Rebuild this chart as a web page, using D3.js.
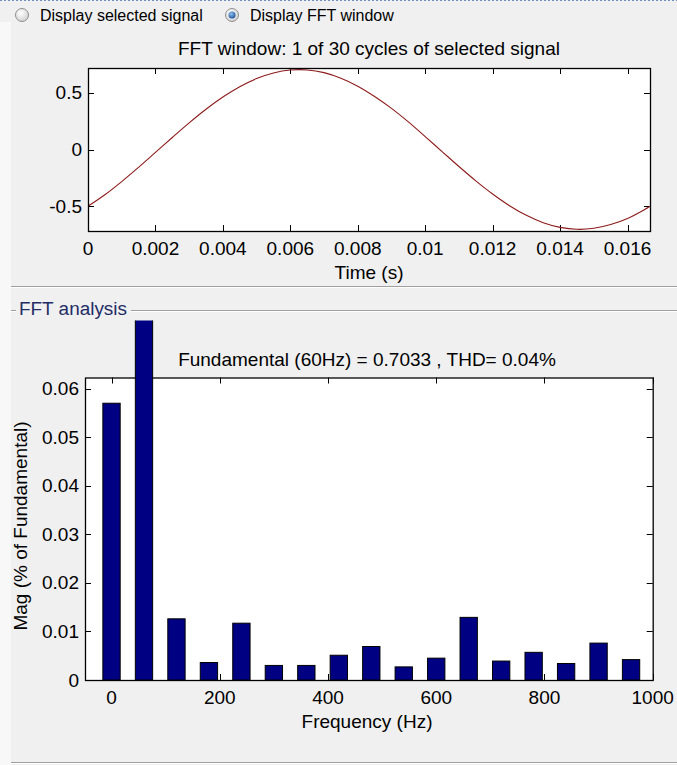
<!DOCTYPE html>
<html>
<head>
<meta charset="utf-8">
<script src="https://cdn.jsdelivr.net/npm/d3@7"></script>
<style>
  body { margin: 0; background: #f0f0f0; }
  svg { display: block; font-family: "Liberation Sans", Arial, sans-serif; }
</style>
</head>
<body>
<script>
// signal in the FFT window (one 60 Hz cycle)
const sigTime = [0, 0.0005, 0.001, 0.0015, 0.002, 0.0025, 0.003, 0.0035, 0.004, 0.0045,
  0.005, 0.0055, 0.006, 0.0065, 0.007, 0.0075, 0.008, 0.0085, 0.009, 0.0095,
  0.01, 0.0105, 0.011, 0.0115, 0.012, 0.0125, 0.013, 0.0135, 0.014, 0.0145,
  0.015, 0.0155, 0.016, 0.0165, 0.016667];
const sigValues = [-0.500, -0.399, -0.283, -0.157, -0.026, 0.106, 0.235, 0.355, 0.462, 0.553,
  0.625, 0.674, 0.700, 0.701, 0.677, 0.628, 0.558, 0.467, 0.362, 0.243,
  0.114, -0.018, -0.150, -0.276, -0.392, -0.495, -0.580, -0.645, -0.686, -0.703,
  -0.694, -0.661, -0.607, -0.530, -0.500];

// harmonic spectrum (% of fundamental)
const freqs = [0, 60, 120, 180, 240, 300, 360, 420, 480, 540, 600, 660, 720, 780, 840, 900, 960];
const mags = [0.0570, 100, 0.0126, 0.0036, 0.0117, 0.0030, 0.0030, 0.0051, 0.0069, 0.0027,
  0.0045, 0.0129, 0.0039, 0.0057, 0.0034, 0.0076, 0.0042];

const timeTicks = [0, 0.002, 0.004, 0.006, 0.008, 0.01, 0.012, 0.014, 0.016];
const timeLabels = ['0', '0.002', '0.004', '0.006', '0.008', '0.01', '0.012', '0.014', '0.016'];
const sigTicks = [-0.5, 0, 0.5];
const sigLabels = ['-0.5', '0', '0.5'];
const freqTicks = [0, 200, 400, 600, 800, 1000];
const freqLabels = ['0', '200', '400', '600', '800', '1000'];
const magTicks = [0, 0.01, 0.02, 0.03, 0.04, 0.05, 0.06];
const magLabels = ['0', '0.01', '0.02', '0.03', '0.04', '0.05', '0.06'];

const W = 677, H = 765;
const svg = d3.select('body').append('svg')
  .attr('width', W)
  .attr('height', H);

// window background bits
svg.append('rect').attr('x', 0).attr('y', 22).attr('width', 11).attr('height', H - 22).attr('fill', '#f8f8f8');
svg.append('line').attr('x1', 0).attr('x2', W).attr('y1', 0.5).attr('y2', 0.5)
  .attr('stroke', '#6f8fc4').attr('stroke-dasharray', '2,2');

function etched(x1, x2, y) {
  svg.append('line').attr('x1', x1).attr('x2', x2).attr('y1', y + 0.5).attr('y2', y + 0.5).attr('stroke', '#a0a0a0');
  svg.append('line').attr('x1', x1).attr('x2', x2).attr('y1', y + 1.5).attr('y2', y + 1.5).attr('stroke', '#ffffff');
}
etched(11, W, 286);
etched(11, 16, 310);
etched(131, W, 310);
etched(11, W, 762);

// radio buttons
const defs = svg.append('defs');
const rg = defs.append('radialGradient').attr('id', 'rb').attr('cx', '40%').attr('cy', '35%').attr('r', '70%');
rg.append('stop').attr('offset', '0%').attr('stop-color', '#ffffff');
rg.append('stop').attr('offset', '100%').attr('stop-color', '#cfcfcf');
const dg = defs.append('radialGradient').attr('id', 'dot').attr('cx', '40%').attr('cy', '35%').attr('r', '70%');
dg.append('stop').attr('offset', '0%').attr('stop-color', '#8fc0f0');
dg.append('stop').attr('offset', '100%').attr('stop-color', '#1c4f96');

const radios = [
  { x: 22, label: 'Display selected signal', on: false },
  { x: 232, label: 'Display FFT window', on: true }
];
radios.forEach(r => {
  svg.append('circle').attr('cx', r.x).attr('cy', 15).attr('r', 6.5)
    .attr('fill', 'url(#rb)').attr('stroke', '#8e8f8f');
  if (r.on) svg.append('circle').attr('cx', r.x).attr('cy', 15).attr('r', 3.5).attr('fill', 'url(#dot)');
  svg.append('text').attr('x', r.x + 18).attr('y', 20.5).attr('font-size', 16).attr('fill', '#000').text(r.label);
});

const tick = 6;

function frame(g, x, y, xt, yt) {
  const [x0, x1] = x.range(), [y0, y1] = y.range();
  g.append('rect').attr('x', x0).attr('y', y1).attr('width', x1 - x0).attr('height', y0 - y1).attr('fill', '#fff');
  const tk = g.append('g').attr('stroke', '#000').attr('stroke-width', 1);
  xt.forEach(v => {
    const px = Math.round(x(v)) + 0.5;
    tk.append('line').attr('x1', px).attr('x2', px).attr('y1', y0).attr('y2', y0 - tick);
    tk.append('line').attr('x1', px).attr('x2', px).attr('y1', y1).attr('y2', y1 + tick);
  });
  yt.forEach(v => {
    const py = Math.round(y(v)) + 0.5;
    tk.append('line').attr('x1', x0).attr('x2', x0 + tick).attr('y1', py).attr('y2', py);
    tk.append('line').attr('x1', x1).attr('x2', x1 - tick).attr('y1', py).attr('y2', py);
  });
}
function box(g, x, y) {
  const [x0, x1] = x.range(), [y0, y1] = y.range();
  g.append('rect').attr('x', x0 + 0.5).attr('y', y1 + 0.5).attr('width', x1 - x0).attr('height', y0 - y1)
    .attr('fill', 'none').attr('stroke', '#000').attr('stroke-width', 1.3);
}
function labels(g, x, y, xt, xl, yt, yl, xBase) {
  const fs = 19;
  g.append('g').selectAll('text').data(xt).enter().append('text')
    .attr('x', d => x(d)).attr('y', xBase).attr('text-anchor', 'middle').attr('font-size', fs)
    .text((d, i) => xl[i]);
  g.append('g').selectAll('text').data(yt).enter().append('text')
    .attr('x', x.range()[0] - 6).attr('y', d => y(d) + 6.5).attr('text-anchor', 'end').attr('font-size', fs)
    .text((d, i) => yl[i]);
}

// ---------- top plot: signal ----------
const tx = d3.scaleLinear().domain([0, 1 / 60]).range([88, 650]);
const ty = d3.scaleLinear().domain([-0.718, 0.718]).range([231, 68]);

const sigPlot = svg.append('g');
frame(sigPlot, tx, ty, timeTicks, sigTicks);
defs.append('clipPath').attr('id', 'clipTop').append('rect')
  .attr('x', 88).attr('y', 67).attr('width', 563).attr('height', 165);
sigPlot.append('path')
  .datum(sigTime.map((t, i) => [t, sigValues[i]]))
  .attr('clip-path', 'url(#clipTop)')
  .attr('fill', 'none').attr('stroke', '#8e1b1b').attr('stroke-width', 1.1)
  .attr('d', d3.line().x(d => tx(d[0])).y(d => ty(d[1])).curve(d3.curveCatmullRom));
box(sigPlot, tx, ty);
labels(sigPlot, tx, ty, timeTicks, timeLabels, sigTicks, sigLabels, 255);
sigPlot.append('text').attr('x', 369).attr('y', 55).attr('text-anchor', 'middle').attr('font-size', 19)
  .text('FFT window: 1 of 30 cycles of selected signal');
sigPlot.append('text').attr('x', 369).attr('y', 279).attr('text-anchor', 'middle').attr('font-size', 19)
  .text('Time (s)');

// ---------- FFT panel ----------
svg.append('text').attr('x', 19).attr('y', 315).attr('font-size', 18).attr('fill', '#1f2d66')
  .attr('textLength', 108).attr('lengthAdjust', 'spacingAndGlyphs')
  .text('FFT analysis');

const fx = d3.scaleLinear().domain([-49, 1000]).range([85, 652.7]);
const fy = d3.scaleLinear().domain([0, 0.0623]).range([680, 377.5]);
const fftPlot = svg.append('g');
frame(fftPlot, fx, fy, freqTicks, magTicks);
box(fftPlot, fx, fy);

defs.append('clipPath').attr('id', 'clipPanel').append('rect')
  .attr('x', 0).attr('y', 320.5).attr('width', W).attr('height', 440);
const barW = fx(32) - fx(0);
fftPlot.append('g').attr('clip-path', 'url(#clipPanel)')
  .selectAll('rect')
  .data(freqs).enter()
  .append('rect')
  .attr('x', d => fx(d) - barW / 2)
  .attr('y', (d, i) => fy(mags[i]))
  .attr('width', barW)
  .attr('height', (d, i) => fy(0) - fy(mags[i]))
  .attr('fill', '#000082')
  .attr('stroke', '#000')
  .attr('stroke-width', 1);

labels(fftPlot, fx, fy, freqTicks, freqLabels, magTicks, magLabels, 704);
fftPlot.append('text').attr('x', 367).attr('y', 366).attr('text-anchor', 'middle').attr('font-size', 19)
  .text('Fundamental (60Hz) = 0.7033 , THD= 0.04%');
fftPlot.append('text').attr('x', 367).attr('y', 728).attr('text-anchor', 'middle').attr('font-size', 19)
  .text('Frequency (Hz)');
fftPlot.append('text').attr('transform', 'translate(27,526) rotate(-90)')
  .attr('text-anchor', 'middle').attr('font-size', 19)
  .text('Mag (% of Fundamental)');
</script>
</body>
</html>
